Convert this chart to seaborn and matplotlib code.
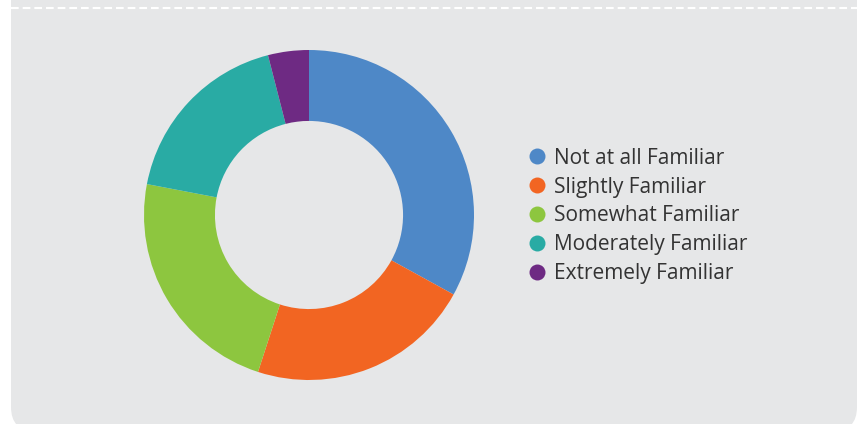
import matplotlib
matplotlib.use("Agg")
import matplotlib.pyplot as plt
import seaborn as sns
from matplotlib.lines import Line2D
from matplotlib.patches import FancyBboxPatch
from matplotlib.transforms import IdentityTransform

categories = ["Not at all Familiar", "Slightly Familiar", "Somewhat Familiar",
              "Moderately Familiar", "Extremely Familiar"]
shares = [33, 22, 23, 18, 4]
colors = ["#4e88c7", "#f26522", "#8dc63f", "#29aba4", "#6e2a83"]

sns.set_theme(style="white")
plt.rcParams['font.family'] = ['Open Sans', 'DejaVu Sans']

fig = plt.figure(figsize=(8.6, 4.24), dpi=100)
fig.patch.set_facecolor("white")

# grey panel (pixel coords), rounded corners, top runs off the image
panel = FancyBboxPatch((11, -7), 846, 460,
                       boxstyle="round,pad=0,rounding_size=24",
                       transform=IdentityTransform(), facecolor="#e6e7e8",
                       edgecolor="none", zorder=-5)
fig.add_artist(panel)
fig.add_artist(Line2D([11 / 860, 1.0], [1 - 7.5 / 424, 1 - 7.5 / 424],
                      transform=fig.transFigure, color="white", lw=1.5,
                      linestyle=(0, (3.7, 1.9)), zorder=-4))

ax = fig.add_axes([144 / 860, 44 / 424, 330 / 860, 330 / 424])
ax.pie(shares, colors=colors, startangle=90, counterclock=False, radius=1,
       wedgeprops=dict(width=0.43, edgecolor="none"))
ax.set_xlim(-1, 1)
ax.set_ylim(-1, 1)
ax.set_aspect("equal")
ax.axis("off")

handles = [Line2D([], [], marker="o", linestyle="none", markersize=11.5,
                  markerfacecolor=c, markeredgecolor="none") for c in colors]
fig.legend(handles, categories, loc="center left",
           bbox_to_anchor=(519 / 860, (424 - 216) / 424), frameon=False,
           fontsize=15, labelcolor="#333333", handlelength=0.7,
           handletextpad=0.5, labelspacing=0.38, borderpad=0)

fig.savefig("out.png", dpi=100)
